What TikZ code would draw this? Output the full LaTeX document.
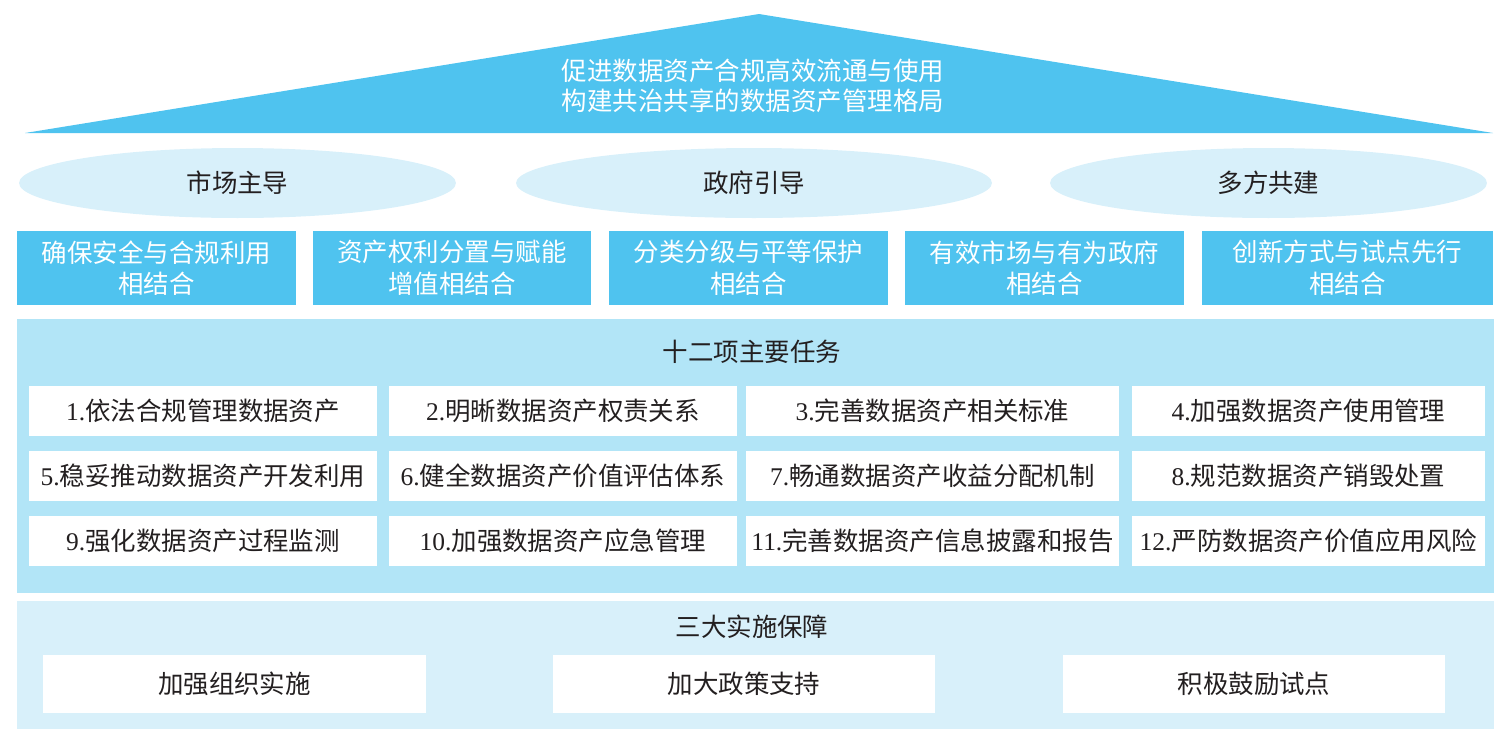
\documentclass[tikz,border=0pt]{standalone}
\usepackage{fontspec}
\setmainfont{Liberation Serif}
\newfontfamily\cjk{Noto Sans CJK SC}
\usetikzlibrary{shapes.geometric}

\definecolor{roofblue}{RGB}{79,195,239}
\definecolor{panelblue}{RGB}{178,229,247}
\definecolor{paleblue}{RGB}{216,240,250}
\definecolor{inkgray}{RGB}{35,31,32}

\tikzset{
  roof text/.style = {text = white, align = center, font = \cjk\fontsize{14.5pt}{17pt}\selectfont},
  lead/.style = {ellipse, fill = paleblue, inner sep = 0pt, minimum height = 1.4cm, text = inkgray, font = \cjk\fontsize{14.5pt}{17pt}\selectfont},
  principle/.style = {fill = roofblue, text = white, align = center, inner sep = 0pt, minimum height = 1.48cm, font = \cjk\fontsize{14.5pt}{18pt}\selectfont},
  panel/.style = {fill = #1, inner sep = 0pt, minimum width = 29.54cm},
  heading/.style = {text = inkgray, font = \cjk\fontsize{14.5pt}{17pt}\selectfont},
  task/.style = {fill = white, inner sep = 0pt, minimum height = 1cm, text = inkgray, font = \fontsize{14.5pt}{17pt}\selectfont},
  support/.style = {fill = white, inner sep = 0pt, minimum height = 1.16cm, text = inkgray, font = \cjk\fontsize{14.5pt}{17pt}\selectfont}
}

\begin{document}
\begin{tikzpicture}[x = 0.02cm, y = -0.02cm]
    \useasboundingbox (0, 0) rectangle (1512, 735);
    \fill[roofblue] (25, 133) -- (759, 14) -- (1493, 133) -- cycle;
    \node[roof text] (goal) at (753, 86) {促进数据资产合规高效流通与使用 \\ 构建共治共享的数据资产管理格局};
    \node[lead, minimum width = 8.74cm] (market) at (237.5, 183) {市场主导};
    \node[lead, minimum width = 9.52cm] (government) at (754, 183) {政府引导};
    \node[lead, minimum width = 8.74cm] (joint) at (1268.5, 183) {多方共建};
    \node[principle, minimum width = 5.58cm] (safety) at (156.5, 268) {确保安全与合规利用 \\ 相结合};
    \node[principle, minimum width = 5.56cm] (rights) at (452, 268) {资产权利分置与赋能 \\ 增值相结合};
    \node[principle, minimum width = 5.58cm] (grading) at (748.5, 268) {分类分级与平等保护 \\ 相结合};
    \node[principle, minimum width = 5.58cm] (effective) at (1044.5, 268) {有效市场与有为政府 \\ 相结合};
    \node[principle, minimum width = 5.82cm] (innovation) at (1347.5, 268) {创新方式与试点先行 \\ 相结合};
    \node[panel = panelblue, minimum height = 5.48cm] (tasks) at (755.5, 456) {};
    \node[heading] (tasks title) at (752, 352) {十二项主要任务};
    \node[task, minimum width = 6.96cm] (task 1) at (203, 411) {1.{\cjk 依法合规管理数据资产}};
    \node[task, minimum width = 6.96cm] (task 2) at (563, 411) {2.{\cjk 明晰数据资产权责关系}};
    \node[task, minimum width = 7.46cm] (task 3) at (932.5, 411) {3.{\cjk 完善数据资产相关标准}};
    \node[task, minimum width = 7.06cm] (task 4) at (1308.5, 411) {4.{\cjk 加强数据资产使用管理}};
    \node[task, minimum width = 6.96cm] (task 5) at (203, 476) {5.{\cjk 稳妥推动数据资产开发利用}};
    \node[task, minimum width = 6.96cm] (task 6) at (563, 476) {6.{\cjk 健全数据资产价值评估体系}};
    \node[task, minimum width = 7.46cm] (task 7) at (932.5, 476) {7.{\cjk 畅通数据资产收益分配机制}};
    \node[task, minimum width = 7.06cm] (task 8) at (1308.5, 476) {8.{\cjk 规范数据资产销毁处置}};
    \node[task, minimum width = 6.96cm] (task 9) at (203, 541) {9.{\cjk 强化数据资产过程监测}};
    \node[task, minimum width = 6.96cm] (task 10) at (563, 541) {10.{\cjk 加强数据资产应急管理}};
    \node[task, minimum width = 7.46cm] (task 11) at (932.5, 541) {11.{\cjk 完善数据资产信息披露和报告}};
    \node[task, minimum width = 7.06cm] (task 12) at (1308.5, 541) {12.{\cjk 严防数据资产价值应用风险}};
    \node[panel = paleblue, minimum height = 2.56cm] (guarantees) at (755.5, 665) {};
    \node[heading] (guarantees title) at (752, 627) {三大实施保障};
    \node[support, minimum width = 7.66cm] (organize) at (234.5, 684) {加强组织实施};
    \node[support, minimum width = 7.64cm] (policy) at (744, 684) {加大政策支持};
    \node[support, minimum width = 7.64cm] (pilot) at (1254, 684) {积极鼓励试点};
  \end{tikzpicture}
\end{document}
